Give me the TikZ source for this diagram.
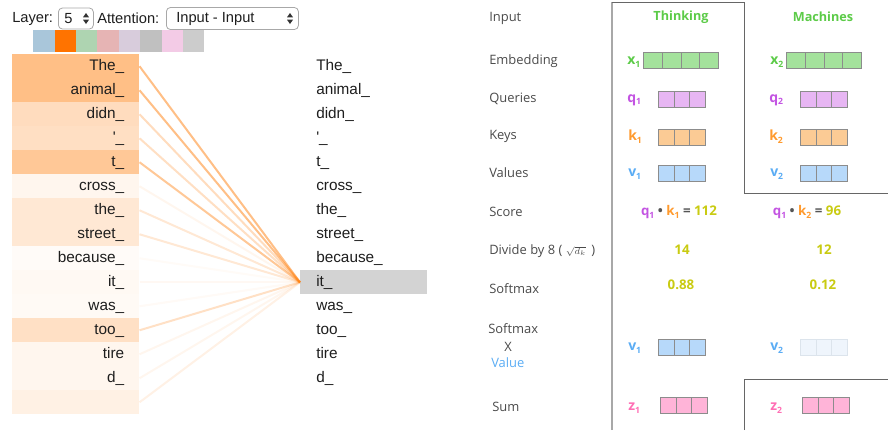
\documentclass[tikz,border=0pt]{standalone}
\usepackage{fontspec}
\setmainfont{Liberation Sans}
\newfontfamily\panelfont{Open Sans}

% attention view
\definecolor{attn}{HTML}{FF7F0E}
\definecolor{tok}{HTML}{1E1E1E}
\definecolor{hl}{HTML}{D3D3D3}
\definecolor{selborder}{HTML}{A8A8A8}
\definecolor{sw0}{HTML}{A9C6DA}
\definecolor{sw1}{HTML}{FF7300}
\definecolor{sw2}{HTML}{AED4B1}
\definecolor{sw3}{HTML}{E6B4B4}
\definecolor{sw4}{HTML}{D8CCDC}
\definecolor{sw5}{HTML}{C0C0C0}
\definecolor{sw6}{HTML}{F3CBE6}
\definecolor{sw7}{HTML}{CCCCCC}
% self-attention walkthrough
\definecolor{plabc}{HTML}{4A4A4A}
\definecolor{framec}{HTML}{666666}
\definecolor{framel}{HTML}{A8A8A8}
\definecolor{cellb}{HTML}{8C8C8C}
\definecolor{xc}{HTML}{5CCB48}
\definecolor{xf}{HTML}{A4E29C}
\definecolor{qc}{HTML}{C354E2}
\definecolor{qf}{HTML}{E7B6F3}
\definecolor{kc}{HTML}{FF9A2E}
\definecolor{kf}{HTML}{FBCB95}
\definecolor{vc}{HTML}{5AACF4}
\definecolor{vf}{HTML}{B7D9FA}
\definecolor{vfade}{HTML}{EFF5FC}
\definecolor{vfadeb}{HTML}{DCE4EC}
\definecolor{zc}{HTML}{FF6EB4}
\definecolor{zf}{HTML}{FFB4D8}
\definecolor{numc}{HTML}{C9CB12}
\definecolor{opc}{HTML}{555555}

\newcommand\sub[1]{\raisebox{-0.35ex}{\fontsize{6.5}{6.5}\selectfont #1}}
\newcommand\updown[2]{%
  \fill[black!80] ({#1-3},{#2-1.2}) -- ({#1+3},{#2-1.2}) -- (#1,{#2-5.5}) -- cycle;
  \fill[black!80] ({#1-3},{#2+1.2}) -- ({#1+3},{#2+1.2}) -- (#1,{#2+5.5}) -- cycle;}
% a row vector of cells: name, x, y (top), count, cell width (px), fill, border
\newcommand\cells[7]{%
  \foreach \j in {1,...,#4}{%
    \node[cell, minimum width=#5*0.75pt, fill=#6, draw=#7] (#1-\j) at ({#2+(\j-1)*#5},#3) {};}}

\begin{document}
\begin{tikzpicture}[x=0.75pt,y=-0.75pt,
  ctl/.style={font=\fontsize{11}{13}\selectfont, text=tok, inner sep=0pt},
  selbox/.style={draw=selborder, fill=white, rounded corners=3pt, line width=0.6pt, inner sep=0pt},
  swatch/.style={rectangle, anchor=north west, minimum width=16.03pt, minimum height=16.5pt, inner sep=0pt},
  rowbox/.style={rectangle, anchor=north west, minimum width=95.25pt, minimum height=18pt,
    text width=72.75pt, inner xsep=11.25pt, inner ysep=0pt, align=right,
    font=\fontsize{11.5}{12}\selectfont, text=tok, text height=8.6pt, text depth=2.6pt},
  tokbox/.style={rowbox, text width=71.25pt, inner xsep=12pt, align=left},
  attnline/.style={draw=attn, line width=1.5pt},
  plab/.style={anchor=west, inner sep=0pt, font=\panelfont\fontsize{9.7}{11}\selectfont, text=plabc},
  head/.style={inner sep=0pt, font=\panelfont\bfseries\fontsize{9.5}{11}\selectfont, text=xc},
  vlab/.style={anchor=west, inner sep=0pt, font=\panelfont\bfseries\fontsize{10.5}{12}\selectfont},
  num/.style={inner sep=0pt, font=\panelfont\bfseries\fontsize{10}{12}\selectfont, text=numc},
  cell/.style={rectangle, anchor=north west, minimum height=12pt, inner sep=0pt, line width=0.75pt},
  frame/.style={draw=framec, line width=0.75pt},
  frameL/.style={draw=framel, line width=1.4pt}]
\useasboundingbox (0,0) rectangle (888,430);

% ---------- controls ----------
\node[ctl, anchor=west] (layerlbl) at (12,18.5) {Layer:};
\node[selbox, minimum width=26.25pt, minimum height=15.75pt, anchor=west] (layersel) at (58,18.5) {};
\node[ctl, anchor=west] (layerval) at (64,18.5) {5};
\updown{86}{18.5}
\node[ctl, anchor=west] (attnlbl) at (97,18.5) {Attention:};
\node[selbox, minimum width=99pt, minimum height=16.5pt, anchor=west] (attnsel) at (166,18.5) {};
\node[ctl, anchor=west] (attnval) at (176,18.5) {Input - Input};
\updown{290}{18.5}

% ---------- head colour swatches ----------
\foreach \i in {0,...,7}{
  \node[swatch, fill=sw\i] (sw\i) at ({33+21.375*\i},30) {};}

% ---------- target tokens ----------
\foreach \t/\f [count=\i from 0] in {The\_/white, animal\_/white, didn\_/white,
    \textquotesingle\_/white, t\_/white, cross\_/white, the\_/white, street\_/white,
    because\_/white, it\_/hl, was\_/white, too\_/white, tire/white, d\_/white}{
  \node[tokbox, fill=\f] (r\i) at (300,{54+24*\i}) {\t};}
\coordinate (hub) at (r9.west);

% ---------- source tokens with attention weights ----------
\foreach \t/\p [count=\i from 0, evaluate=\p as \op using \p/100] in {The\_/50, animal\_/50,
    didn\_/27, \textquotesingle\_/25, t\_/43, cross\_/7, the\_/18, street\_/18,
    because\_/3, it\_/5, was\_/4, too\_/24, tire/7, d\_/7, {}/11}{
  \node[rowbox, fill=attn!\p!white] (l\i) at (12,{54+24*\i}) {\t};
  \draw[attnline, draw opacity=\op] (l\i.east) -- (hub);}

% ---------- walkthrough: row labels ----------
\node[plab] (pInput) at (489,18) {Input};
\node[plab] (pEmb) at (489,61) {Embedding};
\node[plab] (pQ) at (489,99) {Queries};
\node[plab] (pK) at (489,136) {Keys};
\node[plab] (pV) at (489,173) {Values};
\node[plab] (pScore) at (489,212) {Score};
\node[plab] (pDiv) at (489,251) {Divide by 8 ( {\fontsize{7}{7}\selectfont$\sqrt{d_k}$}\, )};
\node[plab] (pSoft) at (489,289) {Softmax};
\node[plab] (pSoft2) at (488,329) {Softmax};
\node[plab, anchor=center] (pX) at (508,347) {X};
\node[plab, text=vc] (pVal) at (491,363) {Value};
\node[plab] (pSum) at (492,407) {Sum};

% ---------- walkthrough: frames ----------
\draw[frameL] (612,430) -- (612,2);
\draw[frame] (612,2) -- (744,2) -- (744,193) -- (888,193);
\draw[frame] (744,430) -- (744,379) -- (888,379);

% ---------- column 1: Thinking ----------
\node[head] (w1) at (681,17) {Thinking};
\node[vlab, text=xc] (x1) at (627,62) {x\sub1};
\cells{x1c}{643}{52}{4}{18.75}{xf}{cellb}
\node[vlab, text=qc] (q1) at (627,100) {q\sub1};
\cells{q1c}{658}{91}{3}{15.5}{qf}{cellb}
\node[vlab, text=kc] (k1) at (628,137) {k\sub1};
\cells{k1c}{658}{129}{3}{15.5}{kf}{cellb}
\node[vlab, text=vc] (v1) at (628,174) {v\sub1};
\cells{v1c}{658}{165}{3}{15.5}{vf}{cellb}
\node[num] (s1) at (679,212) {{\color{qc}q\sub1} {\color{opc}•} {\color{kc}k\sub1} {\color{opc}=} 112};
\node[num] (d1) at (682,250) {14};
\node[num] (m1) at (681,285) {0.88};
\node[vlab, text=vc] (wv1) at (628,348) {v\sub1};
\cells{wv1c}{658}{339}{3}{15.5}{vf}{cellb}
\node[vlab, text=zc] (z1) at (628,408) {z\sub1};
\cells{z1c}{660}{397}{3}{15.5}{zf}{cellb}

% ---------- column 2: Machines ----------
\node[head] (w2) at (823,17) {Machines};
\node[vlab, text=xc] (x2) at (770,62) {x\sub2};
\cells{x2c}{786}{52}{4}{18.75}{xf}{cellb}
\node[vlab, text=qc] (q2) at (769,100) {q\sub2};
\cells{q2c}{800}{91}{3}{15.5}{qf}{cellb}
\node[vlab, text=kc] (k2) at (769,137) {k\sub2};
\cells{k2c}{800}{129}{3}{15.5}{kf}{cellb}
\node[vlab, text=vc] (v2) at (770,174) {v\sub2};
\cells{v2c}{800}{165}{3}{15.5}{vf}{cellb}
\node[num] (s2) at (807,212) {{\color{qc}q\sub1} {\color{opc}•} {\color{kc}k\sub2} {\color{opc}=} 96};
\node[num] (d2) at (824,250) {12};
\node[num] (m2) at (823,285) {0.12};
\node[vlab, text=vc] (wv2) at (770,348) {v\sub2};
\cells{wv2c}{800}{339}{3}{15.5}{vfade}{vfadeb}
\node[vlab, text=zc] (z2) at (770,408) {z\sub2};
\cells{z2c}{802}{397}{3}{15.5}{zf}{cellb}
\end{tikzpicture}
\end{document}
